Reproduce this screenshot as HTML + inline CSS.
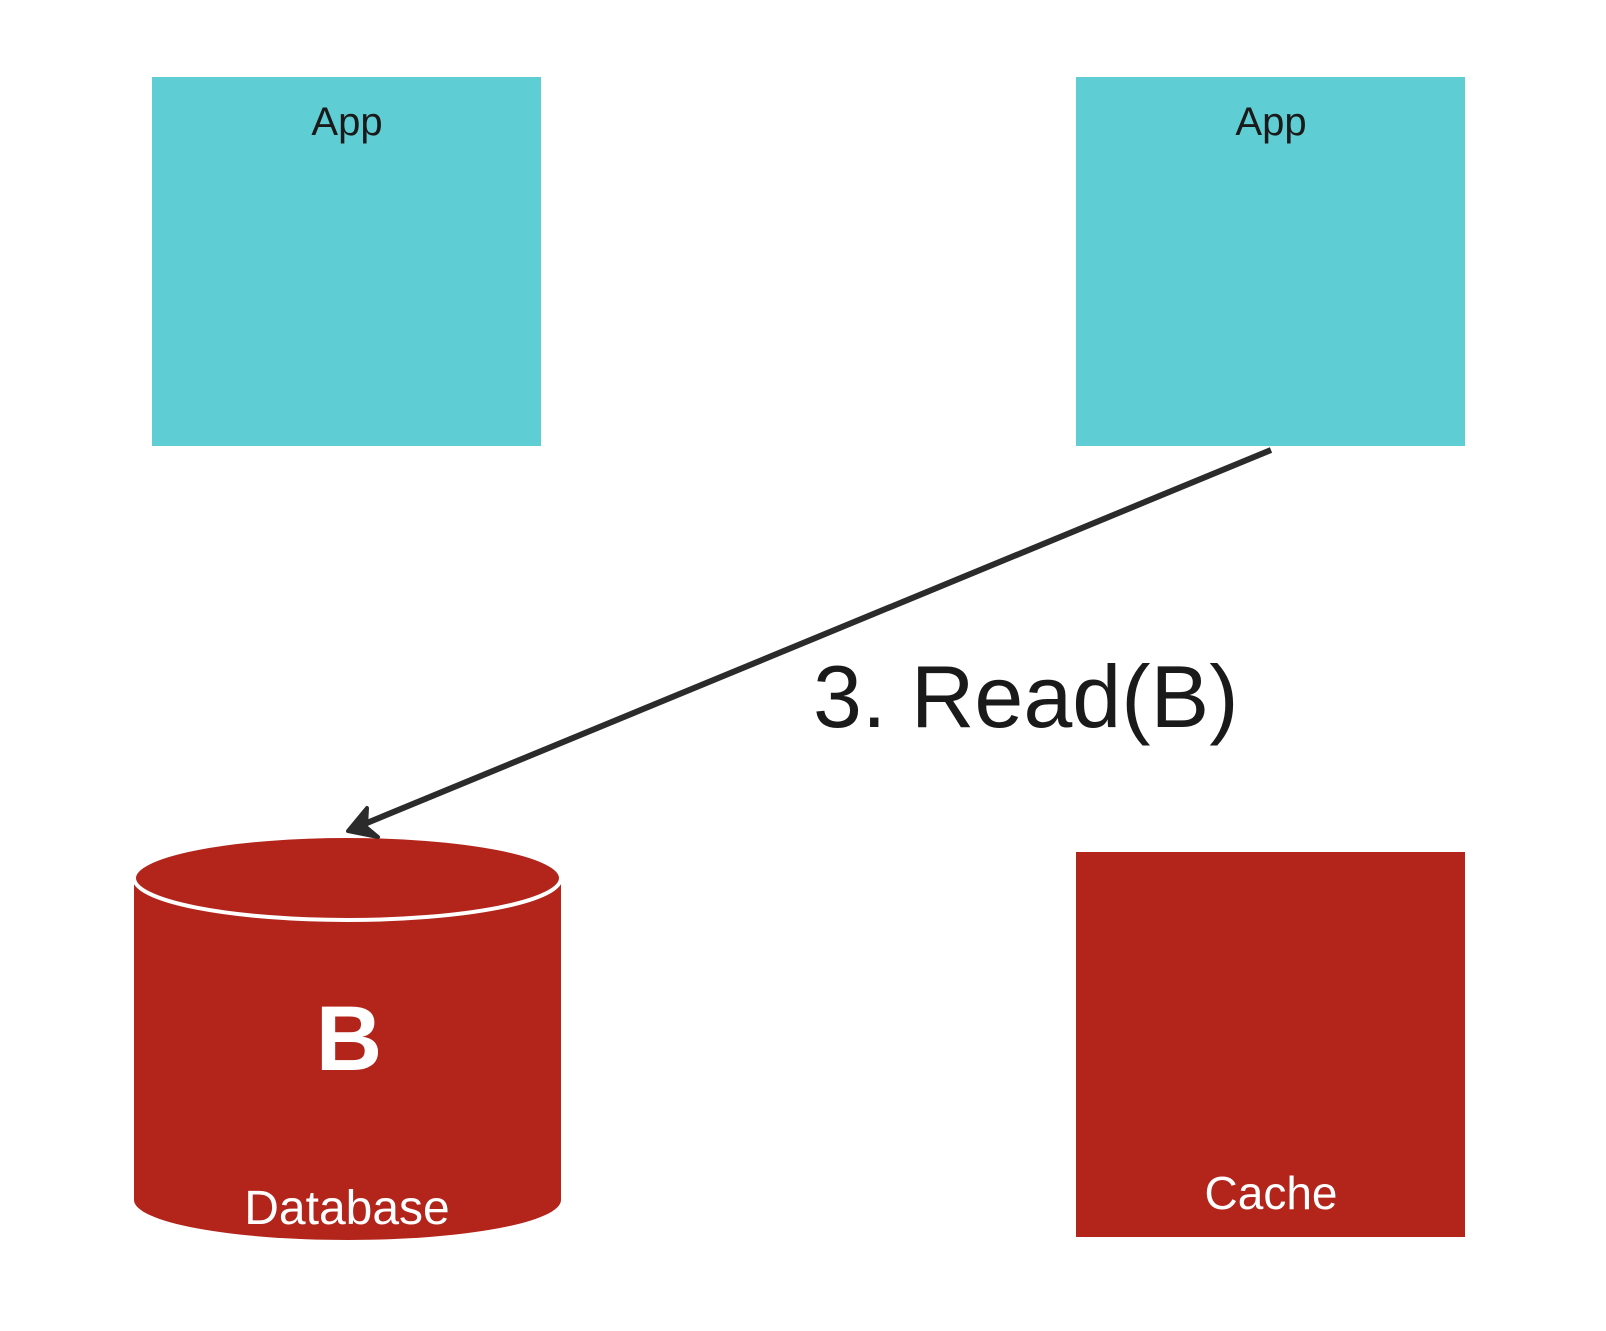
<!DOCTYPE html>
<html><head><meta charset="utf-8"><style>
html,body{margin:0;padding:0;background:#fff;}
body{width:1606px;height:1326px;overflow:hidden;}
</style></head><body>
<svg width="1606" height="1326" xmlns="http://www.w3.org/2000/svg" font-family="'Liberation Sans', 'DejaVu Sans', sans-serif">
<rect x="152" y="77" width="389" height="369" fill="#5ECED4"/>
<text x="347" y="135" font-size="40" text-anchor="middle" fill="#1a1a1a">App</text>
<rect x="1076" y="77" width="389" height="369" fill="#5ECED4"/>
<text x="1271" y="135" font-size="40" text-anchor="middle" fill="#1a1a1a">App</text>
<rect x="1076" y="852" width="389" height="385" fill="#B3241B"/>
<text x="1271" y="1209" font-size="46" text-anchor="middle" fill="#fff">Cache</text>
<path d="M134 878 L134 1200 A213.5 40 0 0 0 561 1200 L561 878 Z" fill="#B3241B"/>
<ellipse cx="347.5" cy="878" rx="213.5" ry="42" fill="#B3241B" stroke="#fff" stroke-width="4"/>
<text x="349" y="1070" font-size="92" font-weight="bold" text-anchor="middle" fill="#fff">B</text>
<text x="347" y="1224" font-size="48" text-anchor="middle" fill="#fff">Database</text>
<line x1="1271" y1="450" x2="362" y2="825" stroke="#2b2b2b" stroke-width="6"/>
<path d="M348 831 L367 808 L366 827 L378 837 Z" fill="#2b2b2b" stroke="#2b2b2b" stroke-width="4" stroke-linejoin="round"/>
<text x="813" y="727" font-size="88" fill="#1a1a1a">3. Read(B)</text>
</svg>
</body></html>
